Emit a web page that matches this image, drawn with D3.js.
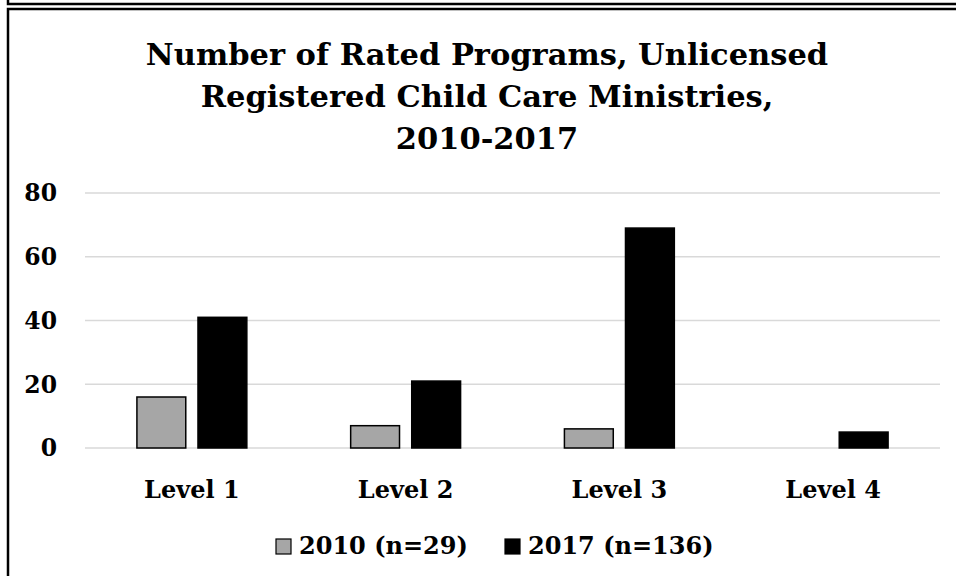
<!DOCTYPE html>
<html><head><meta charset="utf-8">
<script src="https://cdn.jsdelivr.net/npm/d3@7"></script>
<style>body{margin:0;background:#fff}svg{display:block}</style>
</head><body>
<svg id="c" width="956" height="576"></svg>
<script>
const categories = ["Level 1","Level 2","Level 3","Level 4"];
const seriesNames = ["2010 (n=29)","2017 (n=136)"];
const values2010 = [16,7,6,0];
const values2017 = [41,21,69,5];
const yTicks = [0,20,40,60,80];
const titleLines = ["Number of Rated Programs, Unlicensed","Registered Child Care Ministries,","2010-2017"];

const svg = d3.select("#c");
const font = "'DejaVu Serif', serif";
const colors = ["#a6a6a6","#000000"];

// frames
svg.append("path").attr("d","M8,0 V4 H960").attr("fill","none").attr("stroke","#000").attr("stroke-width",2.5);
svg.append("rect").attr("x",8).attr("y",9).attr("width",960).attr("height",600)
  .attr("fill","none").attr("stroke","#000").attr("stroke-width",2.5);

const x0 = d3.scaleBand().domain(categories).range([85,940]).paddingInner(0).paddingOuter(0);
const x1 = d3.scaleBand().domain(seriesNames).range([0,x0.bandwidth()]).paddingInner(0.2).paddingOuter(0.85);
const y = d3.scaleLinear().domain([0,80]).range([448,193]);

// grid
svg.append("g").selectAll("line").data(yTicks).join("line")
  .attr("x1",85).attr("x2",940).attr("y1",d=>y(d)).attr("y2",d=>y(d))
  .attr("stroke","#d9d9d9").attr("stroke-width",1.5);

// y labels
svg.append("g").selectAll("text").data(yTicks).join("text")
  .attr("x",57).attr("y",d=>y(d)).attr("dy","0.36em").attr("text-anchor","end")
  .attr("font-family",font).attr("font-weight","bold").attr("font-size",23.5).text(d=>d);

const data = categories.map((c,i)=>({cat:c, vals:[values2010[i],values2017[i]]}));
const g = svg.append("g");
data.forEach(d=>{
  d.vals.forEach((v,j)=>{
    if(v<=0) return;
    g.append("rect")
      .attr("x",x0(d.cat)+x1(seriesNames[j]))
      .attr("y",y(v))
      .attr("width",x1.bandwidth())
      .attr("height",y(0)-y(v))
      .attr("fill",colors[j])
      .attr("stroke","#000").attr("stroke-width",1.5);
  });
});

// x labels
svg.append("g").selectAll("text").data(categories).join("text")
  .attr("x",d=>x0(d)+x0.bandwidth()/2).attr("y",498).attr("text-anchor","middle")
  .attr("font-family",font).attr("font-weight","bold").attr("font-size",24).text(d=>d);

// title
svg.append("g").selectAll("text").data(titleLines).join("text")
  .attr("x",487).attr("y",(d,i)=>65+i*42).attr("text-anchor","middle")
  .attr("font-family",font).attr("font-weight","bold").attr("font-size",30.5).text(d=>d);

// legend
const legendX = [276,505];
const lg = svg.append("g");
seriesNames.forEach((s,i)=>{
  lg.append("rect").attr("x",legendX[i]).attr("y",539).attr("width",15).attr("height",15)
    .attr("fill",colors[i]).attr("stroke","#000").attr("stroke-width",1.2);
  lg.append("text").attr("x",legendX[i]+23).attr("y",554)
    .attr("font-family",font).attr("font-weight","bold").attr("font-size",24).text(s);
});
</script>
</body></html>
